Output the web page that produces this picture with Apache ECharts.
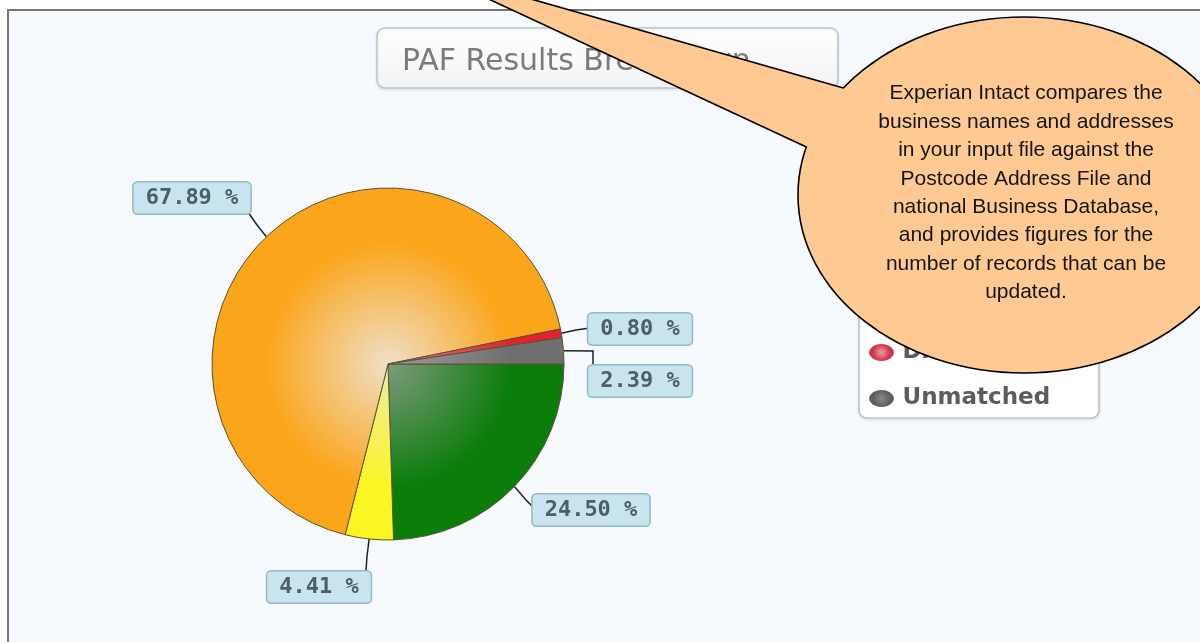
<!DOCTYPE html>
<html><head><meta charset="utf-8">
<script src="https://cdn.jsdelivr.net/npm/echarts@6/dist/echarts.min.js"></script>
<style>html,body{margin:0;padding:0;background:#fff;}#chart{width:1200px;height:642px;}</style>
</head><body><div id="chart"></div>
<script>
// ---- data ----
const categories = ['Corrected', 'Partial', 'Verified', 'Different', 'Unmatched'];
const percentValues = [24.50, 4.41, 67.89, 0.80, 2.39];
const edgeColors = ['#0b7d0b', '#fbf524', '#fba51a', '#e0232c', '#6f6f6f'];
const centerColors = ['#7e9a7c', '#efeba6', '#efdfc8', '#e88080', '#9c9c9c'];
const legendCenter = ['#7fc07f', '#ffff9a', '#ffd080', '#f29aa6', '#8a8a8a'];
const legendEdge = ['#0b7d0b', '#d8d000', '#e89000', '#c8384a', '#5e5e5e'];
const titleText = 'PAF Results Breakdown';
const calloutLines = [
  'Experian Intact compares the',
  'business names and addresses',
  'in your input file against the',
  'Postcode Address File and',
  'national Business Database,',
  'and provides figures for the',
  'number of records that can be',
  'updated.'
];

// ---- layout constants ----
const PIE_CX = 388, PIE_CY = 364, PIE_R = 176;
const labelSpots = [
  { x: 591, y: 510, path: [[526, 500], [534, 508]] },
  { x: 319, y: 587, path: [[367, 556], [366, 571]] },
  { x: 192, y: 198, path: [[257, 225], [248, 212]] },
  { x: 640, y: 329, path: [[576, 330], [590, 328]] },
  { x: 640, y: 381, path: [[593, 351], [593, 364]] }
];

const chart = echarts.init(document.getElementById('chart'), null, { renderer: 'canvas' });

const TIP = [422, -32], J1 = [843.4, 88], J2 = [806.4, 147];

const option = {
  backgroundColor: '#ffffff',
  animation: false,
  title: {
    text: titleText,
    left: 402, top: 47, padding: 0, z: 6,
    textStyle: { fontFamily: 'DejaVu Sans', fontSize: 30, fontWeight: 'normal', color: '#7b7b7b' }
  },
  legend: {
    orient: 'vertical', left: 859, top: 194,
    padding: [9, 10, 9, 10], itemGap: 23, itemWidth: 26, itemHeight: 16,
    icon: 'path://M0,8A12,8 0 1,1 24,8A12,8 0 1,1 0,8Z',
    selectedMode: false, z: 10,
    textStyle: { fontFamily: 'DejaVu Sans', fontWeight: 'bold', fontSize: 23, color: '#5c5c5c', padding: [0, 0, 0, 3] },
    data: categories.map((n, i) => ({
      name: n,
      itemStyle: {
        color: { type: 'radial', x: 0.5, y: 0.5, r: 0.5, colorStops: [{ offset: 0, color: legendCenter[i] }, { offset: 1, color: legendEdge[i] }] },
        borderColor: legendEdge[i], borderWidth: 1
      }
    }))
  },
  graphic: [
    { type: 'rect', silent: true, z: -10, shape: { x: 8, y: 10, width: 1300, height: 700 },
      style: { fill: '#f6f9fd', stroke: '#767676', lineWidth: 2 } },
    { type: 'rect', silent: true, z: 1, shape: { x: 377, y: 28, width: 461, height: 60, r: 8 },
      style: { fill: { type: 'linear', x: 0, y: 0, x2: 0, y2: 1, colorStops: [{ offset: 0, color: '#ffffff' }, { offset: 1, color: '#f2f3f5' }] },
               stroke: '#c4c4c4', lineWidth: 1.5, shadowColor: 'rgba(0,0,0,0.10)', shadowBlur: 3, shadowOffsetY: 1 } },
    { type: 'rect', silent: true, z: 5, shape: { x: 859, y: 194, width: 240, height: 224, r: 8 },
      style: { fill: '#ffffff', stroke: '#b4b4b4', lineWidth: 1.2, shadowColor: 'rgba(0,0,0,0.12)', shadowBlur: 3, shadowOffsetY: 1 } },
    { type: 'ellipse', silent: true, z: 100, shape: { cx: 1024, cy: 195, rx: 226, ry: 178 },
      style: { fill: '#fec993', stroke: '#000000', lineWidth: 1.6 } },
    { type: 'polygon', silent: true, z: 101, shape: { points: [TIP, J1, [850, 120], J2] },
      style: { fill: '#fec993', stroke: null } },
    { type: 'polyline', silent: true, z: 102, shape: { points: [TIP, J1] }, style: { stroke: '#000000', lineWidth: 1.6, fill: null } },
    { type: 'polyline', silent: true, z: 102, shape: { points: [TIP, J2] }, style: { stroke: '#000000', lineWidth: 1.6, fill: null } },
    { type: 'text', silent: true, z: 103, x: 1026, y: 193,
      style: { text: calloutLines.join('\n'), fontFamily: '"Liberation Sans", Arial, sans-serif', fontSize: 21,
               lineHeight: 28.4, fill: '#151515', align: 'center', verticalAlign: 'middle' } }
  ],
  series: [{
    type: 'pie',
    center: [PIE_CX, PIE_CY],
    radius: PIE_R,
    startAngle: 0,
    clockwise: true,
    avoidLabelOverlap: false,
    z: 2,
    emphasis: { disabled: true },
    itemStyle: { borderColor: '#5d5135', borderWidth: 1 },
    data: categories.map((n, i) => ({
      name: n,
      value: percentValues[i],
      itemStyle: {
        color: { type: 'radial', x: PIE_CX, y: PIE_CY, r: PIE_R, global: true,
                 colorStops: [{ offset: 0, color: centerColors[i] }, { offset: 0.7, color: edgeColors[i] }, { offset: 1, color: edgeColors[i] }] }
      }
    })),
    label: {
      show: true, position: 'outside',
      formatter: p => p.value.toFixed(2) + ' %',
      fontFamily: 'DejaVu Sans Mono', fontWeight: 'bold', fontSize: 22, color: '#4c5e6b',
      backgroundColor: '#c8e4ee', borderColor: '#93b8c8', borderWidth: 1.5, borderRadius: 4,
      padding: [5, 12, 4, 12]
    },
    labelLine: { show: true, length: 15, length2: 10, lineStyle: { color: '#1d2328', width: 1.5 } },
    labelLayout: function (params) {
      const s = labelSpots[params.dataIndex];
      const p0 = params.labelLinePoints ? params.labelLinePoints[0] : s.path[0];
      return { x: s.x, y: s.y, align: 'center', verticalAlign: 'middle',
               labelLinePoints: [p0, s.path[0], s.path[1]] };
    }
  }]
};
chart.setOption(option);
</script></body></html>
